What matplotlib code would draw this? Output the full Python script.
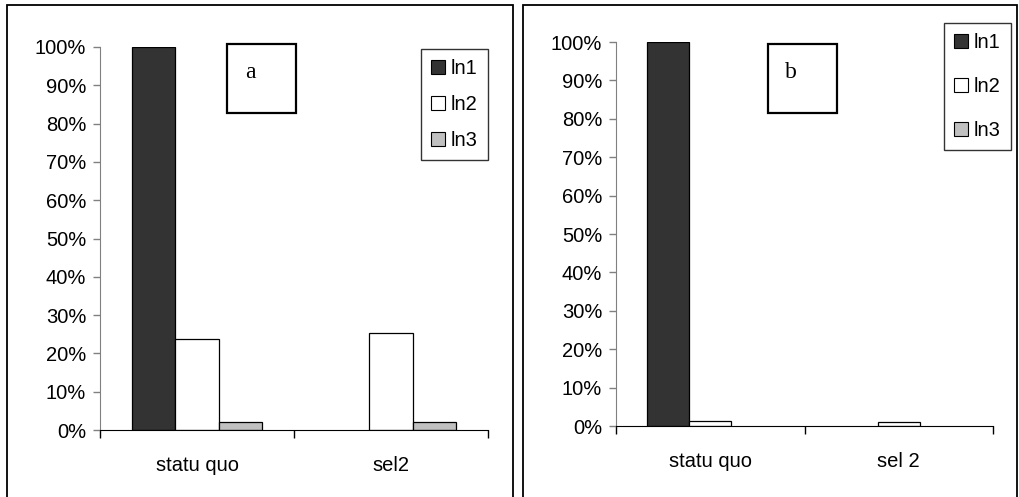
import numpy as np
import matplotlib
matplotlib.use("Agg")
import matplotlib.pyplot as plt
from matplotlib.patches import Rectangle, Patch

plt.rcParams["font.family"] = ["Liberation Sans", "DejaVu Sans"]

W, H = 1019, 497

series = ["ln1", "ln2", "ln3"]
colors = ["#333333", "#ffffff", "#c0c0c0"]

cats_a = ["statu quo", "sel2"]
ln1_a = [100.0, 0.0]
ln2_a = [23.7, 25.2]
ln3_a = [2.2, 2.2]

cats_b = ["statu quo", "sel 2"]
ln1_b = [100.0, 0.0]
ln2_b = [1.4, 1.1]
ln3_b = [0.0, 0.0]

yticks = np.arange(0, 101, 10)
ytick_labels = [f"{v}%" for v in yticks]

fig = plt.figure(figsize=(W / 100, H / 100), dpi=100, facecolor="white")


def px_rect(x0, y0, x1, y1):
    """pixel box (top-left origin) -> figure fraction rect"""
    return [x0 / W, 1 - y1 / H, (x1 - x0) / W, (y1 - y0) / H]


def frame(x0, y0, x1, y1, lw=1.3):
    l, b, w, h = px_rect(x0, y0, x1, y1)
    fig.patches.append(Rectangle((l, b), w, h, transform=fig.transFigure,
                                 fill=False, ec="black", lw=lw, zorder=0))


def panel(rect, cats, vals, label_box, letter, legend_box, spacing):
    ax = fig.add_axes(px_rect(*rect))
    x = np.arange(len(cats))
    w = 1 / 4.5
    for i, (v, c) in enumerate(zip(vals, colors)):
        bars = ax.bar(x + (i - 1) * w, v, width=w, color=c, edgecolor="black", lw=0.9, zorder=3)
        # empty bars leave no outline
        for bar, val in zip(bars, v):
            if val == 0:
                bar.set_linewidth(0)
    ax.set_xlim(-0.5, len(cats) - 0.5)
    ax.set_ylim(0, 100)
    ax.set_yticks(yticks)
    ax.set_yticklabels(ytick_labels, fontsize=14.5)
    ax.set_xticks(x)
    ax.set_xticklabels(cats, fontsize=14.5)
    ax.set_xticks(np.arange(-0.5, len(cats)), minor=True)
    ax.tick_params(axis="x", which="major", length=0, pad=19)
    ax.tick_params(axis="x", which="minor", length=6, width=1, direction="out")
    ax.tick_params(axis="y", length=5, width=1, color="#808080", pad=5)
    for s in ["top", "right"]:
        ax.spines[s].set_visible(False)
    ax.spines["left"].set_color("#808080")
    ax.spines["bottom"].set_color("black")
    ax.spines["bottom"].set_zorder(4)

    # letter box
    l, b, bw, bh = px_rect(*label_box)
    fig.patches.append(Rectangle((l, b), bw, bh, transform=fig.transFigure,
                                 fill=False, ec="black", lw=1.6, zorder=5))
    fig.text(l + 23 / W, b + bh - 28 / H, letter, family="Liberation Serif",
             fontsize=17, ha="center", va="center")

    # legend
    handles = [Patch(facecolor=c, edgecolor="black", lw=0.8) for c in colors]
    lx0, ly0, lx1, ly1 = legend_box
    leg = fig.legend(handles, series, loc="upper right",
                     bbox_to_anchor=(lx1 / W, 1 - ly0 / H), bbox_transform=fig.transFigure,
                     fontsize=14.5, frameon=True, fancybox=False, handlelength=0.7,
                     handleheight=0.7, handletextpad=0.3, labelspacing=spacing,
                     borderpad=0.5, borderaxespad=0)
    leg.get_frame().set_edgecolor("black")
    leg.get_frame().set_linewidth(1.0)
    return ax


frame(7, 5, 513, 510)
frame(523, 5, 1017, 510)

panel((100, 47, 488, 430), cats_a, [ln1_a, ln2_a, ln3_a],
      (227, 44, 296, 113), "a", (424, 49, 488, 159), 0.85)
panel((616, 42, 993, 426), cats_b, [ln1_b, ln2_b, ln3_b],
      (768, 44, 837, 113), "b", (947, 23, 1011, 148), 1.25)

fig.savefig("out.png", dpi=100, facecolor="white")
